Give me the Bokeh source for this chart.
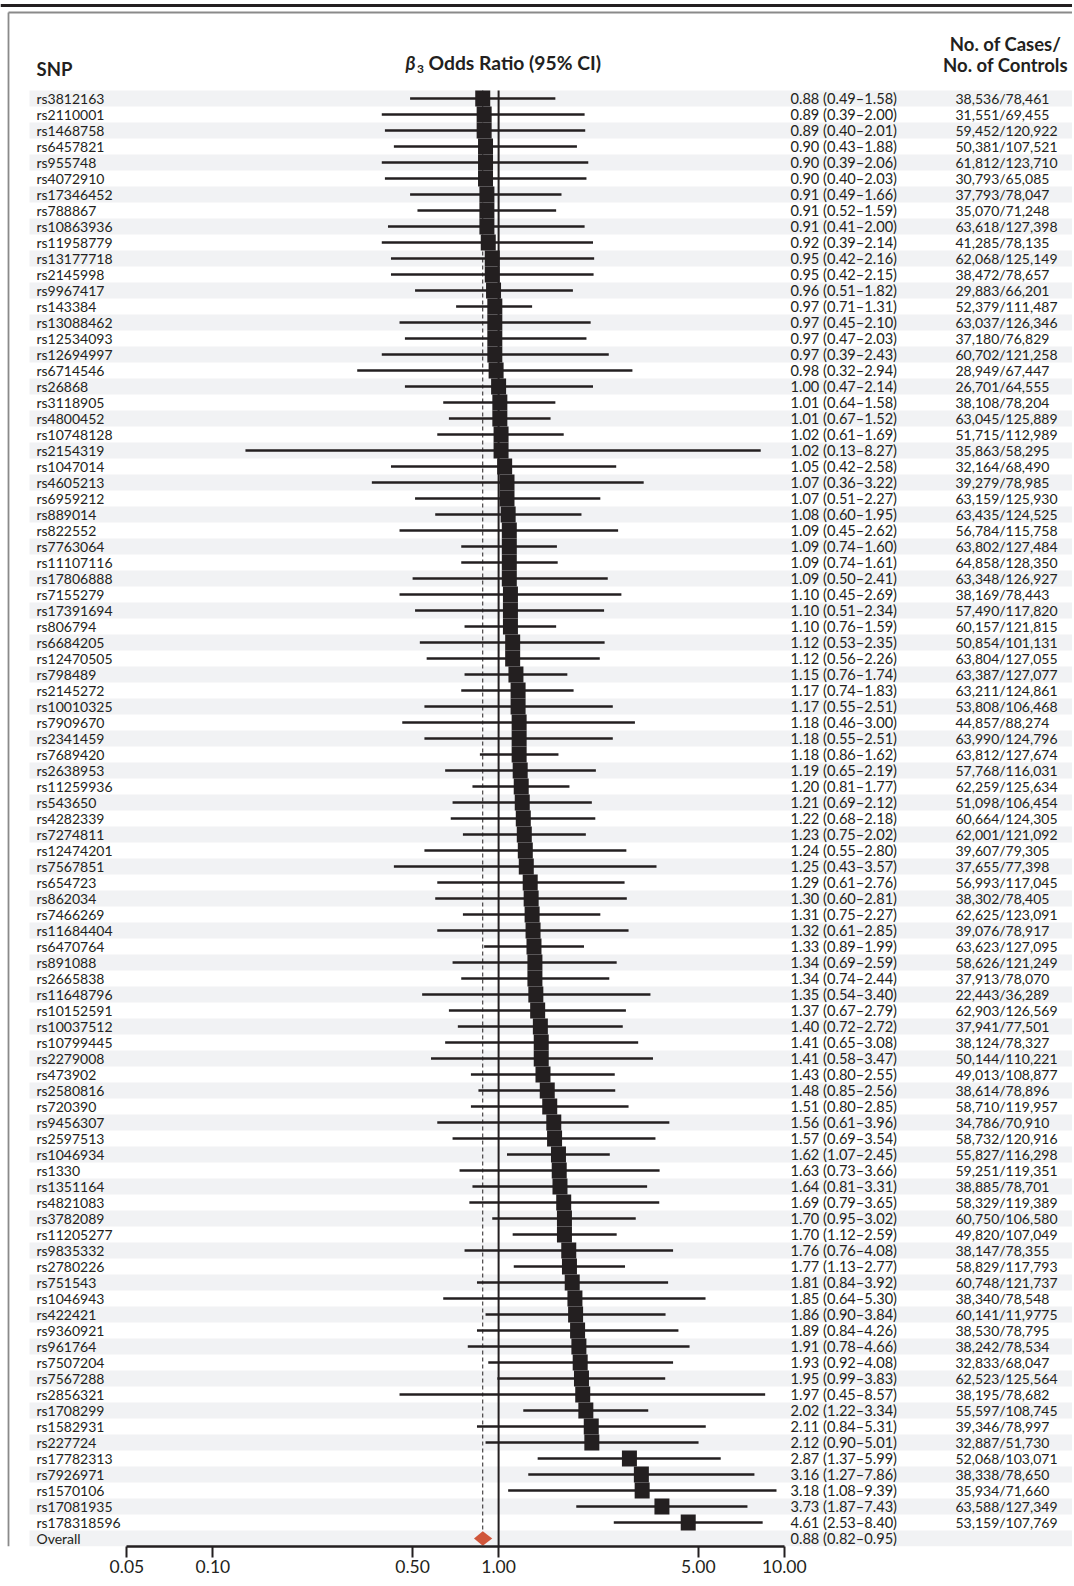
from bokeh.plotting import figure
from bokeh.models import Range1d, LinearScale, FixedTicker
from bokeh.core.properties import value
from bokeh.embed import file_html
from bokeh.resources import INLINE

# ---------------- data ----------------
snps = [
    "rs3812163", "rs2110001", "rs1468758", "rs6457821", "rs955748", "rs4072910",
    "rs17346452", "rs788867", "rs10863936", "rs11958779", "rs13177718", "rs2145998",
    "rs9967417", "rs143384", "rs13088462", "rs12534093", "rs12694997", "rs6714546",
    "rs26868", "rs3118905", "rs4800452", "rs10748128", "rs2154319", "rs1047014",
    "rs4605213", "rs6959212", "rs889014", "rs822552", "rs7763064", "rs11107116",
    "rs17806888", "rs7155279", "rs17391694", "rs806794", "rs6684205", "rs12470505",
    "rs798489", "rs2145272", "rs10010325", "rs7909670", "rs2341459", "rs7689420",
    "rs2638953", "rs11259936", "rs543650", "rs4282339", "rs7274811", "rs12474201",
    "rs7567851", "rs654723", "rs862034", "rs7466269", "rs11684404", "rs6470764",
    "rs891088", "rs2665838", "rs11648796", "rs10152591", "rs10037512", "rs10799445",
    "rs2279008", "rs473902", "rs2580816", "rs720390", "rs9456307", "rs2597513",
    "rs1046934", "rs1330", "rs1351164", "rs4821083", "rs3782089", "rs11205277",
    "rs9835332", "rs2780226", "rs751543", "rs1046943", "rs422421", "rs9360921",
    "rs961764", "rs7507204", "rs7567288", "rs2856321", "rs1708299", "rs1582931",
    "rs227724", "rs17782313", "rs7926971", "rs1570106", "rs17081935", "rs178318596",
]
or_vals = [
    0.88, 0.89, 0.89, 0.90, 0.90, 0.90, 0.91, 0.91, 0.91, 0.92, 0.95, 0.95,
    0.96, 0.97, 0.97, 0.97, 0.97, 0.98, 1.00, 1.01, 1.01, 1.02, 1.02, 1.05,
    1.07, 1.07, 1.08, 1.09, 1.09, 1.09, 1.09, 1.10, 1.10, 1.10, 1.12, 1.12,
    1.15, 1.17, 1.17, 1.18, 1.18, 1.18, 1.19, 1.20, 1.21, 1.22, 1.23, 1.24,
    1.25, 1.29, 1.30, 1.31, 1.32, 1.33, 1.34, 1.34, 1.35, 1.37, 1.40, 1.41,
    1.41, 1.43, 1.48, 1.51, 1.56, 1.57, 1.62, 1.63, 1.64, 1.69, 1.70, 1.70,
    1.76, 1.77, 1.81, 1.85, 1.86, 1.89, 1.91, 1.93, 1.95, 1.97, 2.02, 2.11,
    2.12, 2.87, 3.16, 3.18, 3.73, 4.61,
]
ci_lo = [
    0.49, 0.39, 0.40, 0.43, 0.39, 0.40, 0.49, 0.52, 0.41, 0.39, 0.42, 0.42,
    0.51, 0.71, 0.45, 0.47, 0.39, 0.32, 0.47, 0.64, 0.67, 0.61, 0.13, 0.42,
    0.36, 0.51, 0.60, 0.45, 0.74, 0.74, 0.50, 0.45, 0.51, 0.76, 0.53, 0.56,
    0.76, 0.74, 0.55, 0.46, 0.55, 0.86, 0.65, 0.81, 0.69, 0.68, 0.75, 0.55,
    0.43, 0.61, 0.60, 0.75, 0.61, 0.89, 0.69, 0.74, 0.54, 0.67, 0.72, 0.65,
    0.58, 0.80, 0.85, 0.80, 0.61, 0.69, 1.07, 0.73, 0.81, 0.79, 0.95, 1.12,
    0.76, 1.13, 0.84, 0.64, 0.90, 0.84, 0.78, 0.92, 0.99, 0.45, 1.22, 0.84,
    0.90, 1.37, 1.27, 1.08, 1.87, 2.53,
]
ci_hi = [
    1.58, 2.00, 2.01, 1.88, 2.06, 2.03, 1.66, 1.59, 2.00, 2.14, 2.16, 2.15,
    1.82, 1.31, 2.10, 2.03, 2.43, 2.94, 2.14, 1.58, 1.52, 1.69, 8.27, 2.58,
    3.22, 2.27, 1.95, 2.62, 1.60, 1.61, 2.41, 2.69, 2.34, 1.59, 2.35, 2.26,
    1.74, 1.83, 2.51, 3.00, 2.51, 1.62, 2.19, 1.77, 2.12, 2.18, 2.02, 2.80,
    3.57, 2.76, 2.81, 2.27, 2.85, 1.99, 2.59, 2.44, 3.40, 2.79, 2.72, 3.08,
    3.47, 2.55, 2.56, 2.85, 3.96, 3.54, 2.45, 3.66, 3.31, 3.65, 3.02, 2.59,
    4.08, 2.77, 3.92, 5.30, 3.84, 4.26, 4.66, 4.08, 3.83, 8.57, 3.34, 5.31,
    5.01, 5.99, 7.86, 9.39, 7.43, 8.40,
]
counts = [
    "38,536/78,461", "31,551/69,455", "59,452/120,922", "50,381/107,521",
    "61,812/123,710", "30,793/65,085", "37,793/78,047", "35,070/71,248",
    "63,618/127,398", "41,285/78,135", "62,068/125,149", "38,472/78,657",
    "29,883/66,201", "52,379/111,487", "63,037/126,346", "37,180/76,829",
    "60,702/121,258", "28,949/67,447", "26,701/64,555", "38,108/78,204",
    "63,045/125,889", "51,715/112,989", "35,863/58,295", "32,164/68,490",
    "39,279/78,985", "63,159/125,930", "63,435/124,525", "56,784/115,758",
    "63,802/127,484", "64,858/128,350", "63,348/126,927", "38,169/78,443",
    "57,490/117,820", "60,157/121,815", "50,854/101,131", "63,804/127,055",
    "63,387/127,077", "63,211/124,861", "53,808/106,468", "44,857/88,274",
    "63,990/124,796", "63,812/127,674", "57,768/116,031", "62,259/125,634",
    "51,098/106,454", "60,664/124,305", "62,001/121,092", "39,607/79,305",
    "37,655/77,398", "56,993/117,045", "38,302/78,405", "62,625/123,091",
    "39,076/78,917", "63,623/127,095", "58,626/121,249", "37,913/78,070",
    "22,443/36,289", "62,903/126,569", "37,941/77,501", "38,124/78,327",
    "50,144/110,221", "49,013/108,877", "38,614/78,896", "58,710/119,957",
    "34,786/70,910", "58,732/120,916", "55,827/116,298", "59,251/119,351",
    "38,885/78,701", "58,329/119,389", "60,750/106,580", "49,820/107,049",
    "38,147/78,355", "58,829/117,793", "60,748/121,737", "38,340/78,548",
    "60,141/11,9775", "38,530/78,795", "38,242/78,534", "32,833/68,047",
    "62,523/125,564", "38,195/78,682", "55,597/108,745", "39,346/78,997",
    "32,887/51,730", "52,068/103,071", "38,338/78,650", "35,934/71,660",
    "63,588/127,349", "53,159/107,769",
]
overall_label = "Overall"
overall_or = 0.88
overall_lo = 0.82
overall_hi = 0.95
tick_vals = [0.05, 0.10, 0.50, 1.00, 5.00, 10.00]
tick_labels = ["0.05", "0.10", "0.50", "1.00", "5.00", "10.00"]

# ---------------- layout constants (page pixels) ----------------
X0, X1 = 0, 1072          # frame horizontal extent on the page
Y0, Y1 = 0, 1546          # frame vertical extent on the page (axis line at Y1)
ROW0_Y, ROW_H = 98, 16    # centre of first row, row pitch
AX_REF_X, DECADE = 126.4, 285.7   # page x of 0.05, pixels per decade

x_start = 0.05 * 10 ** ((X0 - AX_REF_X) / DECADE)
x_end = 0.05 * 10 ** ((X1 - AX_REF_X) / DECADE)
y_start = (Y1 - ROW0_Y) / ROW_H
y_end = (Y0 - ROW0_Y) / ROW_H

INK = "#231f20"
STRIPE = "#f1f2f4"
FONT = value("Lato")

n = len(snps)
rows = list(range(n))
overall_row = n
all_rows = rows + [overall_row]

p = figure(
    frame_width=X1 - X0, frame_height=Y1 - Y0,
    x_axis_type="log",
    x_range=Range1d(x_start, x_end),
    y_range=Range1d(y_start, y_end),
    y_axis_location=None,
    output_backend="svg", toolbar_location=None,
    min_border=0,
)
p.outline_line_color = None
p.grid.visible = False
p.background_fill_color = "white"
p.border_fill_color = "white"

p.extra_x_ranges = {"px": Range1d(X0, X1)}
p.extra_x_scales = {"px": LinearScale()}
p.extra_y_ranges = {"py": Range1d(Y1, Y0)}
p.extra_y_scales = {"py": LinearScale()}

# decorative rules
p.segment(x0=[X0], x1=[X1], y0=[5], y1=[5], x_range_name="px",
          y_range_name="py", line_color=INK, line_width=3)
p.segment(x0=[8, 8], x1=[X1, 8], y0=[12, 12], y1=[12, Y1],
          x_range_name="px", y_range_name="py", line_color="#8a8a8a", line_width=1.8)

# stripes on alternate rows
stripe_rows = [r for r in all_rows if r % 2 == 0]
p.hbar(y=stripe_rows, left=29, right=X1, height=1.0, x_range_name="px",
       fill_color=STRIPE, line_color=None)

# reference lines
p.segment(x0=[1.0], x1=[1.0], y0=[-0.5], y1=[y_start], line_color=INK, line_width=2)
p.segment(x0=[overall_or], x1=[overall_or], y0=[-0.5], y1=[y_start],
          line_color=INK, line_width=1, line_dash="4 3")

# whiskers and squares
p.segment(x0=ci_lo, x1=ci_hi, y0=rows, y1=rows, line_color=INK, line_width=2.6)
p.rect(x=or_vals, y=rows, width=15, width_units="screen", height=1.0,
       fill_color=INK, line_color=None)

# overall diamond
p.patch(x=[overall_lo, overall_or, overall_hi, overall_or],
        y=[overall_row, overall_row - 0.45, overall_row, overall_row + 0.45],
        fill_color="#d0563b", line_color=None)

# text columns
labels = snps + [overall_label]
or_text = [f"{o:.2f} ({l:.2f}\u2013{h:.2f})" for o, l, h in zip(or_vals, ci_lo, ci_hi)]
or_text.append(f"{overall_or:.2f} ({overall_lo:.2f}\u2013{overall_hi:.2f})")

common = dict(x_range_name="px", text_font=FONT, text_font_size="14px",
              text_baseline="middle", text_color=INK)
p.text(x=[36] * len(labels), y=all_rows, text=labels, **common)
p.text(x=[790] * len(or_text), y=all_rows, text=or_text,
       x_range_name="px", text_font=FONT, text_font_size="14.6px",
       text_baseline="middle", text_color=INK)
p.text(x=[955] * len(counts), y=rows, text=counts, **common)

# headers
hdr = dict(x_range_name="px", y_range_name="py", text_font=FONT,
           text_font_style="bold", text_baseline="middle", text_color=INK)
p.text(x=[36], y=[68], text=["SNP"], text_font_size="18.5px", **hdr)
p.text(x=[1005, 1005], y=[43.5, 64.5], text=["No. of Cases/", "No. of Controls"],
       text_font_size="18.5px", text_align="center", **hdr)
p.text(x=[405], y=[62], text=["\u03b2"], text_font_size="19px",
       x_range_name="px", y_range_name="py", text_font=FONT,
       text_font_style="bold italic", text_baseline="middle", text_color=INK)
p.text(x=[416.5], y=[68], text=["3"], text_font_size="12px", **hdr)
p.text(x=[428], y=[62], text=["Odds Ratio (95% CI)"], text_font_size="19.3px", **hdr)

# x axis
ax = p.xaxis[0]
ax.ticker = FixedTicker(ticks=tick_vals)
ax.major_label_overrides = {v: s for v, s in zip(tick_vals, tick_labels)}
ax.bounds = (tick_vals[0], tick_vals[-1])
ax.axis_line_color = INK
ax.axis_line_width = 2.6
ax.major_tick_line_color = INK
ax.major_tick_line_width = 2
ax.major_tick_in = 0
ax.major_tick_out = 11
ax.minor_tick_line_color = None
ax.major_label_standoff = 2
ax.major_label_text_font = "Lato"
ax.major_label_text_font_size = "17.5px"
ax.major_label_text_color = INK

open("out.html", "w").write(file_html(p, INLINE))
